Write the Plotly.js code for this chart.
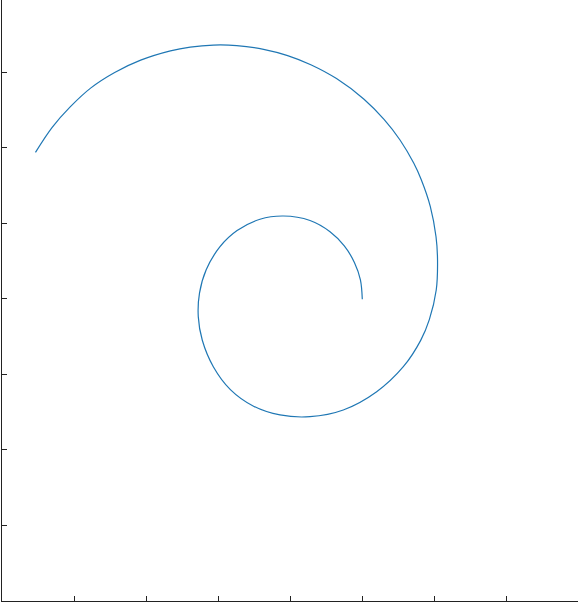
<!DOCTYPE html>
<html>
<head>
<meta charset="utf-8">
<script src="https://cdn.plot.ly/plotly-3.0.1.min.js"></script>
<style>
html,body{margin:0;padding:0;background:#fff;}
#chart{width:580px;height:605px;}
</style>
</head>
<body>
<div id="chart"></div>
<script>
// Spiral points (axis units)
const spiralX = [1.004, 0.978, 0.896, 0.754, 0.556, 0.278, -0.093, -0.417, -0.735, -0.972,
  -1.164, -1.257, -1.274, -1.218, -1.065, -0.828, -0.506, -0.139, 0.278, 0.740,
  1.204, 1.574, 1.815, 1.935, 2.031, 2.049, 2.028, 1.949, 1.822, 1.718,
  1.528, 1.306, 1.028, 0.646, 0.289, -0.033, -0.367, -0.740, -1.065, -1.386,
  -1.661, -2.074, -2.435, -2.765, -3.053, -3.303, -3.535];
const spiralY = [-0.004, 0.253, 0.481, 0.703, 0.891, 1.040, 1.099, 1.056, 0.906, 0.693,
  0.387, 0.077, -0.234, -0.547, -0.897, -1.200, -1.420, -1.536, -1.559, -1.470,
  -1.228, -0.897, -0.548, -0.273, 0.119, 0.517, 0.824, 1.224, 1.583, 1.800,
  2.106, 2.379, 2.646, 2.919, 3.103, 3.224, 3.307, 3.356, 3.363, 3.336,
  3.286, 3.163, 3.000, 2.796, 2.544, 2.273, 1.942];
const tickVals = [-4, -3, -2, -1, 0, 1, 2, 3, 4];

const trace = {
  x: spiralX, y: spiralY, type: 'scatter', mode: 'lines',
  line: {color: '#1f77b4', width: 1.2, shape: 'spline', smoothing: 1},
  hoverinfo: 'skip'
};

const axisCommon = {
  showgrid: false, zeroline: false, showline: true,
  linecolor: '#222', linewidth: 1.4,
  ticks: 'inside', ticklen: 5, tickwidth: 1, tickcolor: '#222',
  tickvals: tickVals, showticklabels: false, fixedrange: true
};

const layout = {
  width: 580, height: 605,
  margin: {l: 2, r: 2, t: 0, b: 4},
  paper_bgcolor: '#fff', plot_bgcolor: '#fff',
  showlegend: false,
  xaxis: Object.assign({}, axisCommon, {range: [-4, 4]}),
  yaxis: Object.assign({}, axisCommon, {range: [-4, 3.96]})
};

Plotly.newPlot('chart', [trace], layout, {displayModeBar: false, staticPlot: true});
</script>
</body>
</html>
